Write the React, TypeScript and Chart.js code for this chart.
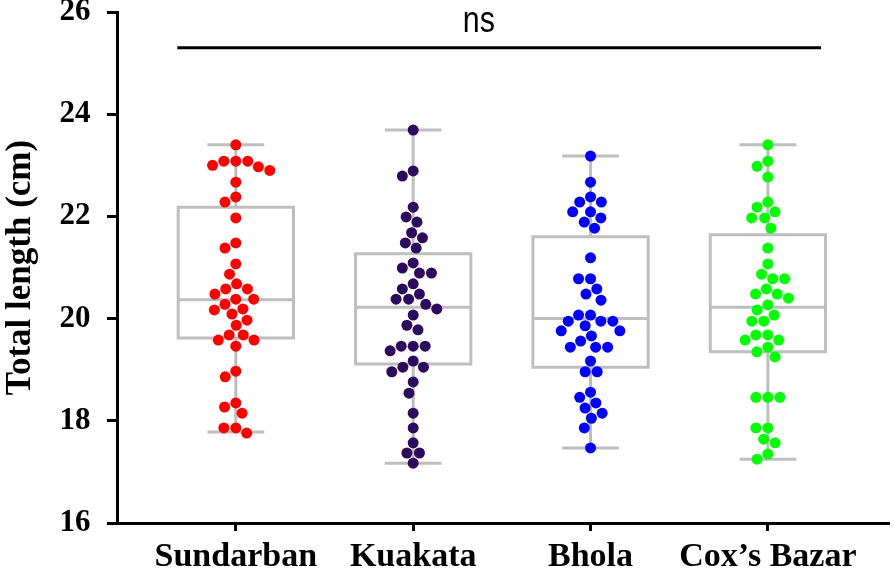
import React, { useEffect, useRef } from "react";
import { Chart, registerables } from "chart.js";

Chart.register(...registerables);

const categories = ["Sundarban", "Kuakata", "Bhola", "Cox\u2019s Bazar"];
const pointColors = ["#FF0000", "#2E0A5E", "#0000FF", "#00FF00"];

const sundarban = [23.4, 23.08, 23.08, 23.08, 23.0, 22.97, 22.9, 22.67, 22.38, 22.28, 21.97, 21.48, 21.38, 21.07, 20.87, 20.68, 20.58, 20.58, 20.48, 20.38, 20.38, 20.28, 20.19, 20.09, 20.17, 19.97, 19.87, 19.68, 19.68, 19.58, 19.58, 19.46, 18.97, 18.86, 18.35, 18.27, 18.15, 17.86, 17.86, 17.76];
const kuakata = [23.69, 22.89, 22.79, 22.18, 21.99, 21.89, 21.68, 21.58, 21.48, 21.38, 21.09, 20.99, 20.89, 20.89, 20.68, 20.58, 20.48, 20.38, 20.28, 20.38, 20.19, 20.07, 19.87, 19.78, 19.46, 19.46, 19.46, 19.37, 19.17, 19.05, 19.05, 18.96, 18.76, 18.54, 18.15, 17.86, 17.57, 17.37, 17.37, 17.17];
const bhola = [23.18, 22.67, 22.38, 22.28, 22.28, 22.09, 22.09, 21.97, 21.89, 21.77, 21.19, 20.78, 20.78, 20.58, 20.48, 20.36, 20.07, 20.07, 19.95, 19.95, 19.95, 19.86, 19.76, 19.76, 19.66, 19.56, 19.44, 19.44, 19.44, 19.17, 18.96, 18.96, 18.56, 18.46, 18.35, 18.25, 18.15, 18.05, 17.86, 17.47];
const coxsBazar = [23.4, 23.08, 22.98, 22.77, 22.28, 22.18, 22.09, 21.97, 21.97, 21.77, 21.38, 21.07, 20.87, 20.78, 20.78, 20.58, 20.48, 20.48, 20.4, 20.27, 20.17, 20.07, 19.95, 19.95, 19.68, 19.68, 19.58, 19.58, 19.44, 19.35, 19.25, 18.46, 18.46, 18.46, 17.86, 17.86, 17.64, 17.57, 17.35, 17.25];
const seriesValues = [sundarban, kuakata, bhola, coxsBazar];

const boxQ1 = [19.62, 19.11, 19.05, 19.35];
const boxMedian = [20.37, 20.22, 20.0, 20.22];
const boxQ3 = [22.18, 21.27, 21.6, 21.64];
const whiskerMin = [17.78, 17.17, 17.47, 17.25];
const whiskerMax = [23.4, 23.69, 23.18, 23.4];

const yTicks = [16, 18, 20, 22, 24, 26];
const sigLabel = "ns";
const sigLineValue = 25.3;
const sigTextValue = 25.6;
const sigTextX = 2.37;

// beeswarm offsets (in x-axis units) computed from values
function swarm(values: number[], d: number, xPx: number, yPx: number): number[] {
  const idx = values.map((v, i) => i).sort((a, b) => values[b] - values[a]);
  const placed: { x: number; y: number }[] = [];
  const out: number[] = new Array(values.length).fill(0);
  for (const i of idx) {
    const y = values[i] * yPx;
    const cands = [0];
    for (const p of placed) {
      const dy = Math.abs(y - p.y);
      if (dy < d) {
        const dx = Math.sqrt(d * d - dy * dy);
        cands.push(p.x + dx, p.x - dx);
      }
    }
    cands.sort((a, b) => Math.abs(a) - Math.abs(b) || a - b);
    let chosen = 0;
    for (const c of cands) {
      let ok = true;
      for (const p of placed) {
        const dx = c - p.x;
        const dy = y - p.y;
        if (dx * dx + dy * dy < d * d - 1e-6) { ok = false; break; }
      }
      if (ok) { chosen = c; break; }
    }
    placed.push({ x: chosen, y });
    out[i] = chosen / xPx;
  }
  return out;
}

const boxPlugin = {
  id: "boxes",
  beforeDatasetsDraw(chart: any) {
    const { ctx, scales } = chart;
    const xs = scales.x;
    const ys = scales.y;
    ctx.save();
    ctx.strokeStyle = "#BEBEBE";
    ctx.lineWidth = 3;
    categories.forEach((_, i) => {
      const c = xs.getPixelForValue(i + 1);
      const hw = xs.getPixelForValue(i + 1 + 0.325) - c;
      const cw = xs.getPixelForValue(i + 1 + 0.16) - c;
      const yq1 = ys.getPixelForValue(boxQ1[i]);
      const yq3 = ys.getPixelForValue(boxQ3[i]);
      const ymed = ys.getPixelForValue(boxMedian[i]);
      const ymin = ys.getPixelForValue(whiskerMin[i]);
      const ymax = ys.getPixelForValue(whiskerMax[i]);
      ctx.beginPath();
      ctx.rect(c - hw, yq3, hw * 2, yq1 - yq3);
      ctx.moveTo(c - hw, ymed); ctx.lineTo(c + hw, ymed);
      ctx.moveTo(c, yq3); ctx.lineTo(c, ymax);
      ctx.moveTo(c, yq1); ctx.lineTo(c, ymin);
      ctx.moveTo(c - cw, ymax); ctx.lineTo(c + cw, ymax);
      ctx.moveTo(c - cw, ymin); ctx.lineTo(c + cw, ymin);
      ctx.stroke();
    });
    ctx.restore();
  },
  afterDraw(chart: any) {
    const { ctx, scales } = chart;
    const xs = scales.x;
    const ys = scales.y;
    const x0 = xs.getPixelForValue(1 - 0.33);
    const x1 = xs.getPixelForValue(4 + 0.3);
    const yl = ys.getPixelForValue(sigLineValue);
    ctx.save();
    ctx.strokeStyle = "#000";
    ctx.lineWidth = 3;
    ctx.beginPath();
    ctx.moveTo(x0, yl);
    ctx.lineTo(x1, yl);
    ctx.stroke();
    ctx.fillStyle = "#000";
    ctx.font = '37px "Liberation Sans", Arial, sans-serif';
    ctx.textAlign = "center";
    ctx.textBaseline = "alphabetic";
    ctx.translate(xs.getPixelForValue(sigTextX), ys.getPixelForValue(sigTextValue));
    ctx.scale(0.82, 1);
    ctx.fillText(sigLabel, 0, 0);
    ctx.restore();
  },
};

export default function App() {
  const ref = useRef<HTMLCanvasElement | null>(null);
  useEffect(() => {
    document.body.style.margin = "0";
    const xPxPerUnit = 773 / 4.35;
    const yPxPerUnit = 51.1;
    const datasets = seriesValues.map((vals, i) => {
      const offs = swarm(vals, 12, xPxPerUnit, yPxPerUnit);
      return {
        type: "scatter" as const,
        label: categories[i],
        data: vals.map((v, j) => ({ x: i + 1 + offs[j], y: v })),
        backgroundColor: pointColors[i],
        borderColor: pointColors[i],
        borderWidth: 0,
        pointRadius: 5.5,
      };
    });
    const chart = new Chart(ref.current as HTMLCanvasElement, {
      type: "scatter",
      data: { datasets },
      plugins: [boxPlugin],
      options: {
        animation: false,
        responsive: true,
        maintainAspectRatio: false,
        layout: { padding: { top: 12, right: 4, left: 0, bottom: 0 } },
        plugins: { legend: { display: false }, tooltip: { enabled: false } },
        scales: {
          x: {
            type: "linear",
            min: 1 - 0.67,
            max: 4 + 0.68,
            afterBuildTicks(scale: any) {
              scale.ticks = categories.map((_, i) => ({ value: i + 1 }));
            },
            afterFit(scale: any) {
              scale.height = 49;
            },
            ticks: {
              autoSkip: false,
              maxRotation: 0,
              padding: 6,
              color: "#000",
              font: { family: '"Liberation Serif", "Times New Roman", serif', size: 34, weight: "bold" },
              callback: (v: any) => categories[Math.round(Number(v)) - 1] ?? "",
            },
            grid: { display: true, drawOnChartArea: false, drawTicks: true, tickLength: 8, color: "#000", lineWidth: 3 },
            border: { display: true, color: "#000", width: 3 },
          },
          y: {
            type: "linear",
            min: 16,
            max: 26,
            afterBuildTicks(scale: any) {
              scale.ticks = yTicks.map((v) => ({ value: v }));
            },
            afterFit(scale: any) {
              scale.width = 117;
            },
            ticks: {
              padding: 1,
              color: "#000",
              font: { family: '"Liberation Serif", "Times New Roman", serif', size: 31, weight: "bold", lineHeight: 0.6 },
              callback: (v: any) => `${v}\u2002`,
            },
            title: {
              display: true,
              text: "Total length (cm)",
              color: "#000",
              padding: { top: 0, bottom: 0 },
              font: { family: '"Liberation Serif", "Times New Roman", serif', size: 35, weight: "bold" },
            },
            grid: { display: true, drawOnChartArea: false, drawTicks: true, tickLength: 10, color: "#000", lineWidth: 3 },
            border: { display: true, color: "#000", width: 3 },
          },
        },
      },
    } as any);
    return () => chart.destroy();
  }, []);
  return (
    <div style={{ width: 894, height: 572, position: "relative" }}>
      <canvas ref={ref} />
    </div>
  );
}
